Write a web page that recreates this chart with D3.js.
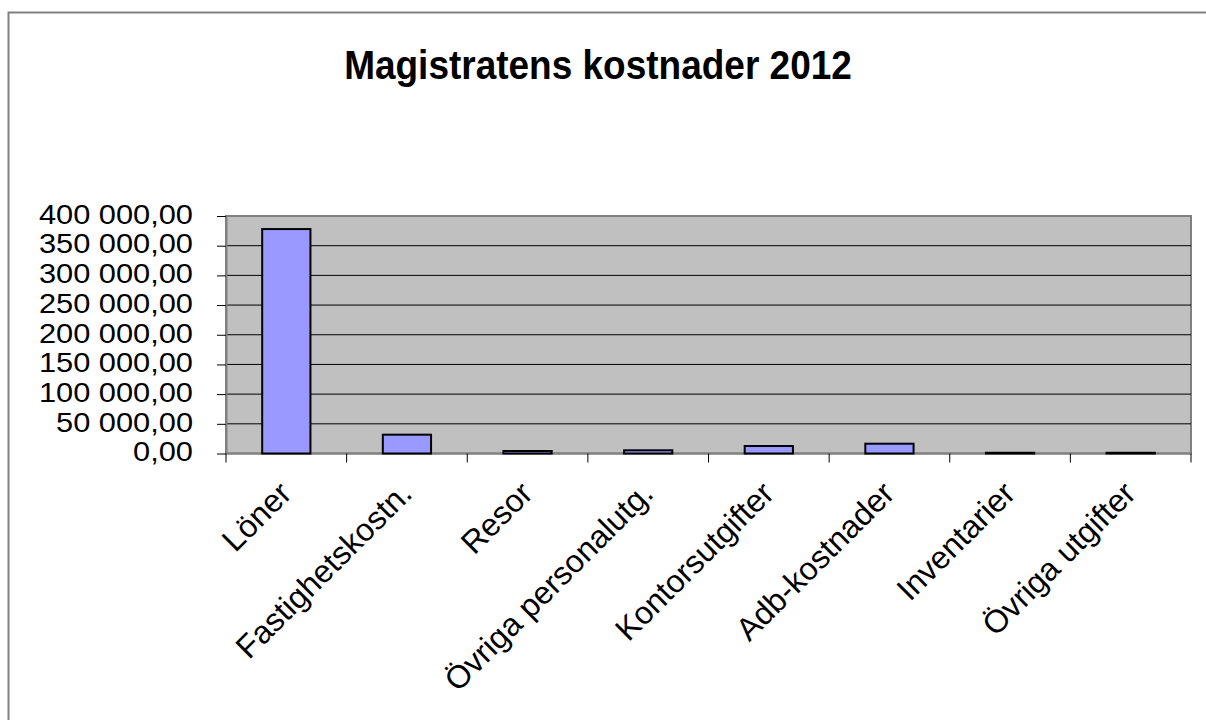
<!DOCTYPE html>
<html>
<head>
<meta charset="utf-8">
<script src="https://cdn.jsdelivr.net/npm/d3@7/dist/d3.min.js"></script>
<style>
  html, body { margin: 0; padding: 0; background: #fff; }
  svg { display: block; font-family: "Liberation Sans", Arial, sans-serif; }
</style>
</head>
<body>
<svg id="chart" width="1206" height="720"></svg>
<script>
const title = "Magistratens kostnader 2012";
const categories = ["Löner", "Fastighetskostn.", "Resor", "Övriga personalutg.", "Kontorsutgifter", "Adb-kostnader", "Inventarier", "Övriga utgifter"];
const values = [378000, 31700, 4200, 5400, 12600, 16500, 1200, 1200];
const yTicks = [0, 50000, 100000, 150000, 200000, 250000, 300000, 350000, 400000];

const svg = d3.select("#chart");
const plot = { left: 226, right: 1191, top: 216, bottom: 453.5 };

// outer chart frame
svg.append("rect")
  .attr("x", 8.5).attr("y", 12.5)
  .attr("width", 1400).attr("height", 900)
  .attr("fill", "#fff").attr("stroke", "#808080").attr("stroke-width", 2);

// title
svg.append("text")
  .attr("transform", "translate(598,79) scale(1,1.1)")
  .attr("text-anchor", "middle")
  .attr("font-weight", "bold")
  .attr("font-size", 37)
  .attr("fill", "#000")
  .text(title);

const x = d3.scaleBand().domain(categories).range([plot.left, plot.right])
  .paddingInner(0.6).paddingOuter(0.3);
const step = (plot.right - plot.left) / categories.length;
const y = d3.scaleLinear().domain([0, 400000]).range([plot.bottom, plot.top]);

// plot background
svg.append("rect")
  .attr("x", plot.left).attr("y", plot.top)
  .attr("width", plot.right - plot.left).attr("height", plot.bottom - plot.top)
  .attr("fill", "#C0C0C0").attr("stroke", "#808080").attr("stroke-width", 2);

// gridlines
svg.append("g").selectAll("line")
  .data(yTicks.filter(d => d > 0 && d < 400000))
  .join("line")
  .attr("x1", plot.left).attr("x2", plot.right)
  .attr("y1", d => y(d)).attr("y2", d => y(d))
  .attr("stroke", "#000").attr("stroke-width", 1);

// y axis
const yAxis = d3.axisLeft(y).tickValues(yTicks).tickSizeOuter(0).tickSizeInner(9).tickPadding(0)
  .tickFormat(d => "");
const gy = svg.append("g").attr("transform", `translate(${plot.left},0)`).call(yAxis);
gy.select(".domain").attr("stroke", "#808080").attr("stroke-width", 2);
gy.selectAll(".tick line").attr("stroke", "#000");

// x axis
const tickPos = d3.range(categories.length + 1).map(i => plot.left + i * step);
svg.append("line")
  .attr("x1", plot.left).attr("x2", plot.right)
  .attr("y1", plot.bottom).attr("y2", plot.bottom)
  .attr("stroke", "#808080").attr("stroke-width", 2);
svg.append("g").selectAll("line")
  .data(tickPos)
  .join("line")
  .attr("x1", d => d).attr("x2", d => d)
  .attr("y1", plot.bottom).attr("y2", plot.bottom + 9)
  .attr("stroke", "#000");

// bars
svg.append("g").selectAll("rect")
  .data(categories)
  .join("rect")
  .attr("x", d => x(d))
  .attr("width", x.bandwidth())
  .attr("y", (d, i) => y(values[i]))
  .attr("height", (d, i) => y(0) - y(values[i]))
  .attr("fill", "#9999FF")
  .attr("stroke", "#000").attr("stroke-width", 2);

const fmt = v => {
  const s = d3.format(",.2f")(v);
  return s.replace(/,/g, " ").replace(".", ",");
};
svg.append("g").selectAll("text")
  .data(yTicks)
  .join("text")
  .attr("transform", d => `translate(193,${y(d) - 2}) scale(1.1,1)`)
  .attr("text-anchor", "end")
  .attr("dy", "0.35em")
  .attr("font-size", 28)
  .attr("fill", "#000")
  .text(d => fmt(d));

svg.append("g").selectAll("text")
  .data(categories)
  .join("text")
  .attr("transform", d => `translate(${x(d) + x.bandwidth() / 2 - 1},${plot.bottom + 34}) rotate(-45)`)
  .attr("text-anchor", "end")
  .attr("dy", "0.35em")
  .attr("font-size", 32)
  .attr("fill", "#000")
  .text(d => d);
</script>
</body>
</html>
